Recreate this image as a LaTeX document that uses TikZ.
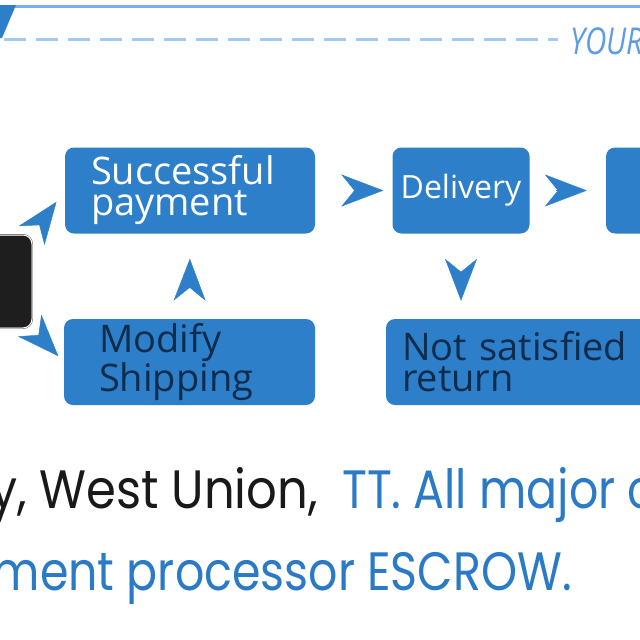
\documentclass[tikz,border=0pt]{standalone}
\usepackage{fontspec}
\setmainfont{Open Sans}
\newfontfamily\geofont{Poppins}
\usetikzlibrary{arrows.meta}

\definecolor{boxblue}{HTML}{2E7FCA}
\definecolor{navytext}{HTML}{0E2C4C}
\definecolor{topline}{HTML}{78B0EE}
\definecolor{dashblue}{HTML}{A2CBF4}
\definecolor{yourblue}{HTML}{5C9DE6}
\definecolor{textblue}{HTML}{2A7AC6}
\definecolor{darkbox}{HTML}{1E1E1E}

\newcommand{\narrow}[2][0.89]{\scalebox{#1}[1]{#2}}

\begin{document}
\begin{tikzpicture}[x=1pt, y=-1pt,
    stepbox/.style={rectangle, rounded corners=9pt, fill=boxblue, inner sep=0pt, minimum height=86pt},
    boxfont/.style={font=\fontsize{38}{31}\selectfont},
    arr/.style={draw=boxblue, fill=boxblue, line width=0.4pt, -{Stealth[length=42pt, width=32pt, inset=13pt]}},
    bottomtext/.style={inner sep=0pt, font=\geofont\fontsize{54}{54}\selectfont}
]
\useasboundingbox (0,0) rectangle (640,640);
\clip (0,0) rectangle (640,640);

% header
\draw[topline, line width=3pt] (0,6) -- (640,6);
\fill[boxblue] (0,5) -- (16,5) -- (2,38) -- (0,38) -- cycle;
\draw[dashblue, line width=3pt, dash pattern=on 22pt off 10pt] (4,39) -- (558,39);
\node (your) [anchor=base west, inner sep=0pt, text=yourblue, font=\fontsize{37}{37}\selectfont\itshape] at (570,54) {\scalebox{0.8}[1]{YOUR}};

% boxes
\node (pay) [stepbox, fill=darkbox, draw=black!75, double=white, double distance=1pt, minimum width=102pt, minimum height=93pt] at (-19,281.5) {};
\node (succ) [stepbox, boxfont, minimum width=250pt, text width=198pt, align=left, text=white] at (190,190.5) {Successful\\payment};
\node (deli) [stepbox, minimum width=137pt, text=white, font=\fontsize{32}{32}\selectfont] at (461,190.5) {Delivery};
\node (next) [stepbox, minimum width=150pt] at (681,190.5) {};
\node (mod) [stepbox, boxfont, minimum width=251pt, text width=181pt, align=left, text=navytext] at (189.5,362) {Modify\\Shipping};
\node (back) [stepbox, boxfont, minimum width=314pt, text width=282pt, align=left, text=navytext] at (543,362) {Not satisfied\\return};

% arrows
\draw[arr, shorten <=13pt, shorten >=14pt] (pay.north east) -- (succ.west);
\draw[arr, shorten <=10pt, shorten >=8pt] (pay.south east) -- (mod.west);
\draw[arr, shorten <=33pt, shorten >=25pt] (mod.north) -- (succ.south);
\draw[arr, shorten <=39pt, shorten >=9pt] (succ.east) -- (deli.west);
\draw[arr, shorten <=26pt, shorten >=19pt] (deli.east) -- (next.west);
\draw[arr, shorten <=40pt, shorten >=18pt] (deli.south) -- (deli.south |- back.north);

% bottom text
\node (place) [bottomtext, anchor=base east, text=black!90] at (318,508) {\narrow{y, West Union,}};
\node (cards) [bottomtext, anchor=base west, text=textblue] at (342,508) {\narrow[0.85]{TT. All major c}};
\node (escrow) [bottomtext, anchor=base east, text=textblue] at (572,590) {\narrow[0.85]{ment processor ESCROW.}};
\end{tikzpicture}
\end{document}
